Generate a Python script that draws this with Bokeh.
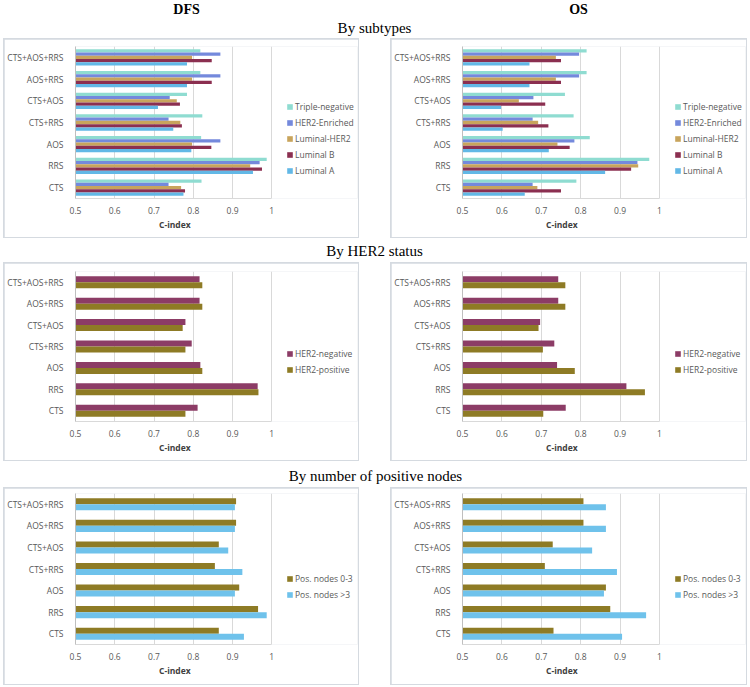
from bokeh.plotting import figure
from bokeh.models import (FactorRange, Range1d, FixedTicker, Legend, LegendItem,
                          Label, ColumnDataSource, Spacer, Title)
from bokeh.layouts import row, column
from bokeh.transform import dodge
from bokeh.embed import file_html
from bokeh.resources import INLINE

# ---------------- data ----------------
categories = ["CTS", "RRS", "AOS", "CTS+RRS", "CTS+AOS", "AOS+RRS", "CTS+AOS+RRS"]
x_ticks = [0.5, 0.6, 0.7, 0.8, 0.9, 1.0]
x_tick_labels = ["0.5", "0.6", "0.7", "0.8", "0.9", "1"]
x_start, x_end = 0.5, 1.0
axis_title = "C-index"

column_titles = ["DFS", "OS"]
section_titles = ["By subtypes", "By HER2 status", "By number of positive nodes"]

subtype_names = ["Triple-negative", "HER2-Enriched", "Luminal-HER2", "Luminal B", "Luminal A"]
dfs_triple_negative = [0.821, 0.987, 0.820, 0.823, 0.784, 0.818, 0.818]
dfs_her2_enriched   = [0.737, 0.969, 0.869, 0.737, 0.740, 0.869, 0.869]
dfs_luminal_her2    = [0.769, 0.945, 0.797, 0.767, 0.758, 0.797, 0.797]
dfs_luminal_b       = [0.779, 0.975, 0.846, 0.771, 0.766, 0.847, 0.847]
dfs_luminal_a       = [0.775, 0.952, 0.795, 0.749, 0.710, 0.784, 0.784]

os_triple_negative = [0.789, 0.974, 0.823, 0.782, 0.760, 0.815, 0.815]
os_her2_enriched   = [0.678, 0.944, 0.784, 0.678, 0.680, 0.796, 0.796]
os_luminal_her2    = [0.690, 0.946, 0.741, 0.692, 0.643, 0.737, 0.737]
os_luminal_b       = [0.750, 0.928, 0.772, 0.718, 0.710, 0.750, 0.750]
os_luminal_a       = [0.658, 0.862, 0.719, 0.602, 0.598, 0.670, 0.670]

her2_names = ["HER2-negative", "HER2-positive"]
dfs_her2_negative = [0.811, 0.964, 0.818, 0.796, 0.780, 0.816, 0.816]
dfs_her2_positive = [0.780, 0.966, 0.823, 0.780, 0.773, 0.823, 0.823]
os_her2_negative  = [0.762, 0.916, 0.740, 0.733, 0.697, 0.743, 0.743]
os_her2_positive  = [0.705, 0.963, 0.785, 0.704, 0.693, 0.761, 0.761]

node_names = ["Pos. nodes 0-3", "Pos. nodes >3"]
dfs_nodes_0_3 = [0.865, 0.965, 0.917, 0.855, 0.865, 0.909, 0.909]
dfs_nodes_gt3 = [0.929, 0.987, 0.906, 0.925, 0.889, 0.906, 0.906]
os_nodes_0_3  = [0.731, 0.875, 0.864, 0.709, 0.729, 0.807, 0.807]
os_nodes_gt3  = [0.905, 0.966, 0.859, 0.892, 0.829, 0.864, 0.864]

# ---------------- styles ----------------
subtype_colors = ["#8FDCD1", "#7489DC", "#C8A45C", "#8B2F50", "#62B8E6"]
her2_colors = ["#8C3C66", "#8E7B25"]
node_colors = ["#8E7B25", "#6FC2EB"]

SANS = "Open Sans"
SERIF = "Liberation Serif"
TXT = "#595959"
BORDER = "#d5dae0"
DATA_W = 197               # pixel width of the 0.5 .. 1.0 span
MR = 1


def panel(names, values, colors, bar_h, fw, fh, ml, mt, mb, leg_dx):
    frame_w = fw - ml - MR
    view_end = x_start + frame_w * (x_end - x_start) / DATA_W
    p = figure(width=fw, height=fh, y_range=FactorRange(*categories),
               x_range=Range1d(x_start, view_end), toolbar_location=None, tools="",
               output_backend="svg", min_border_left=ml, min_border_right=MR,
               min_border_top=mt, min_border_bottom=mb, outline_line_color=None,
               margin=(1, 1, 1, 1))
    data = {"cat": categories}
    for i, v in enumerate(values):
        data[f"s{i}"] = v
    src = ColumnDataSource(data)
    n = len(names)
    items = []
    for i, (name, col) in enumerate(zip(names, colors)):
        off = ((n - 1) / 2 - i) * bar_h
        r = p.hbar(y=dodge("cat", off, range=p.y_range), left=x_start, right=f"s{i}",
                   height=bar_h, source=src, fill_color=col, line_color=None)
        items.append(LegendItem(label=name, renderers=[r]))

    p.ygrid.visible = False
    p.xgrid.grid_line_color = "#d9d9d9"
    p.xaxis.ticker = FixedTicker(ticks=x_ticks)
    p.xaxis.bounds = (x_start, x_end)
    p.xaxis.major_label_overrides = {t: l for t, l in zip(x_ticks, x_tick_labels)}
    p.xaxis.major_label_standoff = 8
    p.xaxis.axis_line_color = "#d9d9d9"
    p.yaxis.axis_line_color = "#bfbfbf"
    p.yaxis.major_label_standoff = 12
    for ax in (p.xaxis[0], p.yaxis[0]):
        ax.major_tick_line_color = None
        ax.minor_tick_line_color = None
        ax.major_tick_out = 0
        ax.major_tick_in = 0
        ax.major_label_text_font = SANS
        ax.major_label_text_font_size = "8.5px"
        ax.major_label_text_color = TXT

    # x-axis title, centred under the 0.5 .. 1.0 span
    p.add_layout(Title(text=axis_title, align="left", offset=DATA_W / 2 - 15,
                       text_font=SANS, text_font_size="8.5px", text_font_style="bold",
                       text_color="#404040", standoff=0), "below")

    lh, sp = 12, 4
    leg_h = n * lh + (n - 1) * sp
    center_above_frame_bottom = fh / 2 - mb
    leg = Legend(items=items, location=(DATA_W + leg_dx, center_above_frame_bottom - leg_h / 2),
                 glyph_width=7, glyph_height=7, label_height=lh, spacing=sp,
                 padding=0, margin=0, label_standoff=2,
                 label_text_font=SANS, label_text_font_size="8.5px",
                 label_text_color=TXT, background_fill_alpha=0,
                 border_line_color=None)
    p.add_layout(leg, "center")
    return column(p, styles={"background-color": BORDER})


def text_fig(h, labels):
    f = figure(width=747, height=h, toolbar_location=None, tools="",
               output_backend="svg", min_border=0, x_axis_type=None,
               y_axis_type=None, outline_line_color=None)
    f.grid.visible = False
    for txt, x, y, bold, size in labels:
        f.add_layout(Label(x=x, y=y, x_units="screen", y_units="screen", text=txt,
                           text_align="center", text_baseline="middle",
                           text_font=SERIF, text_font_size=size,
                           text_font_style="bold" if bold else "normal",
                           text_color="#000000"))
    return f


header = text_fig(38, [(column_titles[0], 186, 29, True, "14px"),
                       (column_titles[1], 578, 29, True, "14px"),
                       (section_titles[0], 374, 11, False, "15px")])
head2 = text_fig(24, [(section_titles[1], 374, 12, False, "15px")])
head3 = text_fig(26, [(section_titles[2], 375, 12, False, "15px")])

# (figure height, margin top, margin bottom) for the three rows
ROWS = [(198, 7, 39), (197, 8, 39), (196, 5, 40)]
LEFT_W, RIGHT_W = 354, 355


def pair(names, dfs_vals, os_vals, colors, bar_h, geom):
    fh, mt, mb = geom
    a = panel(names, dfs_vals, colors, bar_h, LEFT_W, fh, 70, mt, mb, 14)
    b = panel(names, os_vals, colors, bar_h, RIGHT_W, fh, 71, mt, mb, 15)
    return row(Spacer(width=3, height=fh + 2), a, Spacer(width=31, height=fh + 2), b)


r1 = pair(subtype_names,
          [dfs_triple_negative, dfs_her2_enriched, dfs_luminal_her2, dfs_luminal_b, dfs_luminal_a],
          [os_triple_negative, os_her2_enriched, os_luminal_her2, os_luminal_b, os_luminal_a],
          subtype_colors, 0.15, ROWS[0])
r2 = pair(her2_names, [dfs_her2_negative, dfs_her2_positive],
          [os_her2_negative, os_her2_positive], her2_colors, 0.28, ROWS[1])
r3 = pair(node_names, [dfs_nodes_0_3, dfs_nodes_gt3],
          [os_nodes_0_3, os_nodes_gt3], node_colors, 0.28, ROWS[2])

layout = column(header, r1, head2, r2, head3, r3)

open("out.html", "w").write(file_html(layout, INLINE))
